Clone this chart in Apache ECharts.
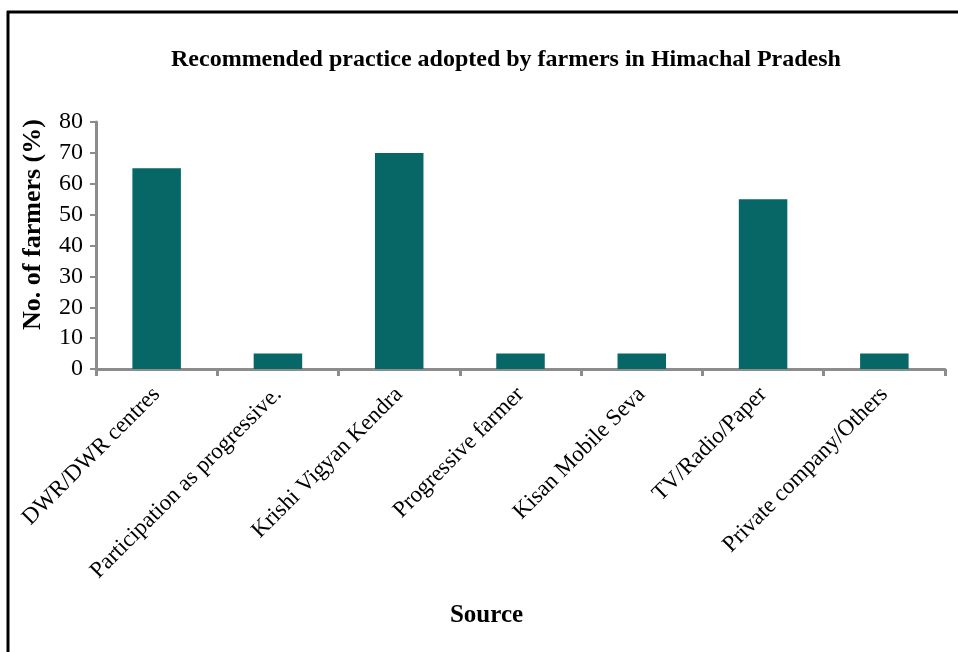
<!DOCTYPE html>
<html>
<head>
<meta charset="utf-8">
<script src="https://cdn.jsdelivr.net/npm/echarts@6/dist/echarts.min.js"></script>
<style>
  html, body { margin: 0; padding: 0; background: #ffffff; }
  #chart { width: 958px; height: 652px; }
</style>
</head>
<body>
<div id="chart"></div>
<script>
// Sources of information for recommended practices
const categories = [
  'DWR/DWR centres',
  'Participation as progressive.',
  'Krishi Vigyan Kendra',
  'Progressive farmer',
  'Kisan Mobile Seva',
  'TV/Radio/Paper',
  'Private company/Others'
];
const farmersPct = [65, 5, 70, 5, 5, 55, 5];
const yTicks = { min: 0, max: 80, step: 10 };

const serif = '"Liberation Serif", "Times New Roman", serif';
const chart = echarts.init(document.getElementById('chart'), null, { renderer: 'canvas' });

chart.setOption({
  backgroundColor: '#ffffff',
  animation: false,
  title: {
    text: 'Recommended practice adopted by farmers in Himachal Pradesh',
    left: 166,
    top: 43,
    textStyle: { fontFamily: serif, fontWeight: 'bold', fontSize: 24, color: '#000' }
  },
  graphic: [
    // outer frame: top and left edges
    { type: 'line', shape: { x1: 7, y1: 12, x2: 958, y2: 12 }, style: { stroke: '#000', lineWidth: 3 } },
    { type: 'line', shape: { x1: 8, y1: 11, x2: 8, y2: 652 }, style: { stroke: '#000', lineWidth: 3 } }
  ],
  grid: { left: 96, right: 13, top: 122, bottom: 283, containLabel: false },
  xAxis: {
    type: 'category',
    data: categories,
    name: 'Source',
    nameLocation: 'middle',
    nameGap: 234,
    nameTextStyle: { fontFamily: serif, fontWeight: 'bold', fontSize: 25, color: '#000', padding: [0, 68, 0, 0] },
    axisLine: { lineStyle: { color: '#8c8c8c', width: 3 } },
    axisTick: { show: true, length: 7, lineStyle: { color: '#8c8c8c', width: 3 } },
    axisLabel: {
      rotate: 45,
      interval: 0,
      margin: 22,
      fontFamily: serif,
      fontSize: 23,
      color: '#000'
    }
  },
  yAxis: {
    type: 'value',
    min: yTicks.min,
    max: yTicks.max,
    interval: yTicks.step,
    name: 'No. of farmers (%)',
    nameLocation: 'middle',
    nameGap: 50,
    nameTextStyle: { fontFamily: serif, fontWeight: 'bold', fontSize: 26, color: '#000', padding: [0, 0, 0, 42] },
    axisLine: { show: true, lineStyle: { color: '#8c8c8c', width: 3 } },
    axisTick: { show: true, length: 6, lineStyle: { color: '#8c8c8c', width: 2 } },
    axisLabel: { margin: 13, fontFamily: serif, fontSize: 24, color: '#000' },
    splitLine: { show: false }
  },
  series: [{
    type: 'bar',
    data: farmersPct,
    barWidth: '40%',
    itemStyle: { color: '#076666' }
  }]
});
</script>
</body>
</html>
